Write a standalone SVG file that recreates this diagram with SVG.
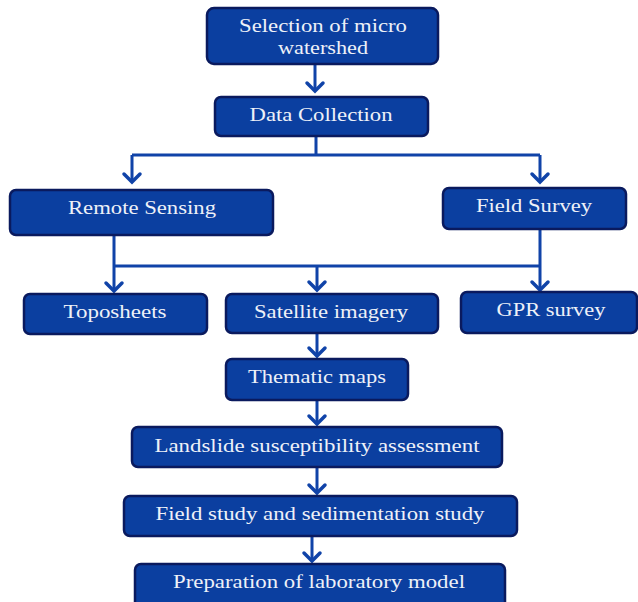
<svg xmlns="http://www.w3.org/2000/svg" width="638" height="602" viewBox="0 0 638 602">
<defs>
<style>
.box{fill:#0b3fa0;stroke:#0a1a5e;stroke-width:2.5}
.t{font-family:"Liberation Serif","Times New Roman",serif;font-size:18px;fill:#eef1f8}
.ln{fill:none;stroke:#1043a8;stroke-width:3}
.ah{fill:none;stroke:#1043a8;stroke-width:3.5;stroke-linecap:round;stroke-linejoin:miter}
</style>
</defs>
<rect width="638" height="602" fill="#ffffff"/>
<g id="connectors">
<path class="ln" d="M315,64 V91"/><path class="ah" d="M307,83 L315,91 L323,83"/>
<path class="ln" d="M316,136 V155 M132,155 H540 M132,155 V182 M540,155 V182"/>
<path class="ah" d="M124,174 L132,182 L140,174"/><path class="ah" d="M532,174 L540,182 L548,174"/>
<path class="ln" d="M114,235 V266 M540,229 V290 M114,266 H540 M317,266 V290 M114,266 V291"/>
<path class="ah" d="M106,283 L114,291 L122,283"/><path class="ah" d="M309,282 L317,290 L325,282"/><path class="ah" d="M532,282 L540,290 L548,282"/>
<path class="ln" d="M317,333 V356"/><path class="ah" d="M309,348 L317,356 L325,348"/>
<path class="ln" d="M317,400 V424"/><path class="ah" d="M309,416 L317,424 L325,416"/>
<path class="ln" d="M317,467 V493"/><path class="ah" d="M309,485 L317,493 L325,485"/>
<path class="ln" d="M312,536 V561"/><path class="ah" d="M304,553 L312,561 L320,553"/>
</g>
<g id="selection"><rect class="box" x="207" y="8" width="231" height="56" rx="7"/>
<text class="t" x="323" y="32" text-anchor="middle" textLength="168" lengthAdjust="spacingAndGlyphs">Selection of micro</text>
<text class="t" x="323" y="54" text-anchor="middle" textLength="90" lengthAdjust="spacingAndGlyphs">watershed</text></g>
<g id="data"><rect class="box" x="215" y="97" width="213" height="39" rx="6"/>
<text class="t" x="321" y="121" text-anchor="middle" textLength="143" lengthAdjust="spacingAndGlyphs">Data Collection</text></g>
<g id="remote"><rect class="box" x="10" y="190" width="263" height="45" rx="6"/>
<text class="t" x="142" y="214" text-anchor="middle" textLength="148" lengthAdjust="spacingAndGlyphs">Remote Sensing</text></g>
<g id="field"><rect class="box" x="443" y="188" width="183" height="41" rx="6"/>
<text class="t" x="534" y="212" text-anchor="middle" textLength="116" lengthAdjust="spacingAndGlyphs">Field Survey</text></g>
<g id="topo"><rect class="box" x="24" y="294" width="183" height="40" rx="6"/>
<text class="t" x="115" y="318" text-anchor="middle" textLength="103" lengthAdjust="spacingAndGlyphs">Toposheets</text></g>
<g id="sat"><rect class="box" x="226" y="294" width="212" height="39" rx="6"/>
<text class="t" x="331" y="318" text-anchor="middle" textLength="154" lengthAdjust="spacingAndGlyphs">Satellite imagery</text></g>
<g id="gpr"><rect class="box" x="461" y="292" width="176" height="41" rx="6"/>
<text class="t" x="551" y="316" text-anchor="middle" textLength="109" lengthAdjust="spacingAndGlyphs">GPR survey</text></g>
<g id="thematic"><rect class="box" x="226" y="359" width="182" height="41" rx="6"/>
<text class="t" x="317" y="383" text-anchor="middle" textLength="138" lengthAdjust="spacingAndGlyphs">Thematic maps</text></g>
<g id="landslide"><rect class="box" x="132" y="427" width="370" height="40" rx="6"/>
<text class="t" x="317" y="452" text-anchor="middle" textLength="325" lengthAdjust="spacingAndGlyphs">Landslide susceptibility assessment</text></g>
<g id="fieldstudy"><rect class="box" x="124" y="496" width="393" height="40" rx="6"/>
<text class="t" x="320" y="520" text-anchor="middle" textLength="329" lengthAdjust="spacingAndGlyphs">Field study and sedimentation study</text></g>
<g id="prep"><rect class="box" x="135" y="564" width="370" height="44" rx="6"/>
<text class="t" x="319" y="588" text-anchor="middle" textLength="292" lengthAdjust="spacingAndGlyphs">Preparation of laboratory model</text></g>
</svg>
